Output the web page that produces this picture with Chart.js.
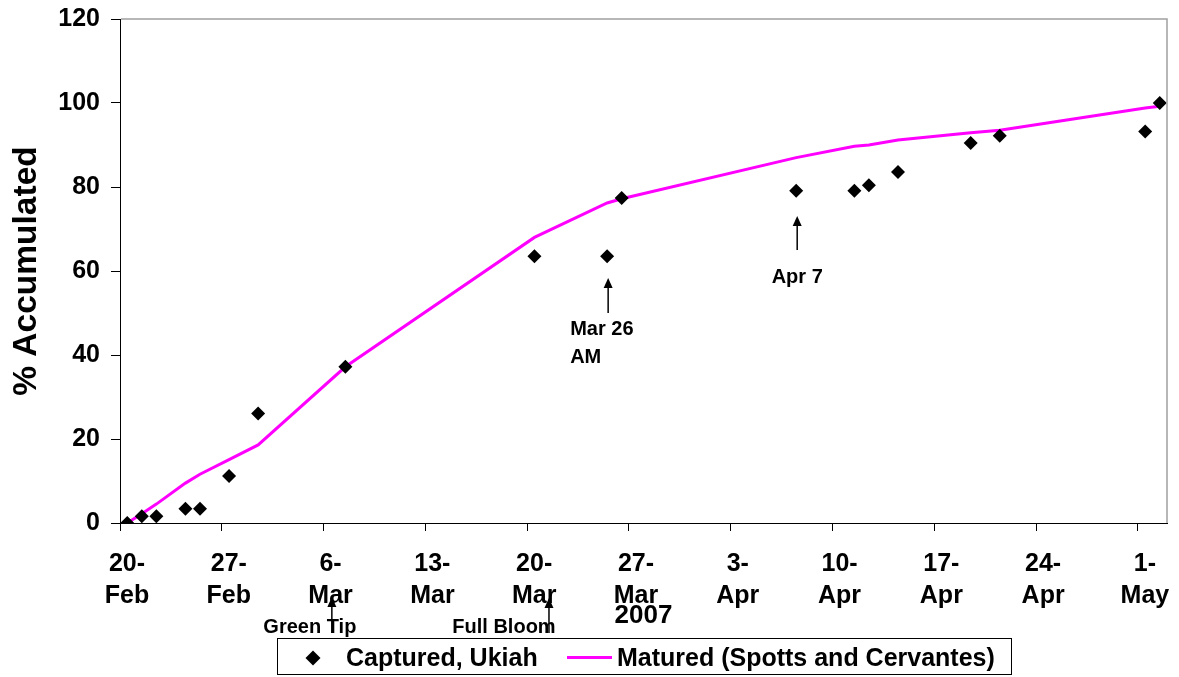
<!DOCTYPE html>
<html>
<head>
<meta charset="utf-8">
<script src="https://cdn.jsdelivr.net/npm/chart.js@4/dist/chart.umd.min.js"></script>
<style>
html,body{margin:0;padding:0;background:#fff;}
canvas{display:block;}
</style>
</head>
<body>
<canvas id="c" width="1179" height="677"></canvas>
<script>
// ---- data ----
const startDate = '2007-02-20';
const endDate = '2007-05-02';
const capturedDates = ['2007-02-20','2007-02-21','2007-02-22','2007-02-24','2007-02-25','2007-02-27','2007-03-01','2007-03-07','2007-03-20','2007-03-25','2007-03-26','2007-04-07','2007-04-11','2007-04-12','2007-04-14','2007-04-19','2007-04-21','2007-05-01','2007-05-02'];
const capturedValues = [0, 1.6, 1.6, 3.4, 3.4, 11.2, 26.1, 37.2, 63.5, 63.5, 77.4, 79.1, 79.1, 80.4, 83.6, 90.5, 92.2, 93.2, 100];
const maturedDates = ['2007-02-20','2007-02-21','2007-02-22','2007-02-24','2007-02-25','2007-02-27','2007-03-01','2007-03-07','2007-03-20','2007-03-25','2007-03-26','2007-04-07','2007-04-11','2007-04-12','2007-04-14','2007-04-19','2007-04-21','2007-05-01','2007-05-02'];
const maturedValues = [0, 2.2, 4.5, 9.5, 11.6, 15.1, 18.6, 37.2, 68.0, 76.2, 77.2, 87.0, 89.7, 90.0, 91.2, 92.9, 93.5, 98.8, 99.2];
const xTickDates = ['2007-02-20','2007-02-27','2007-03-06','2007-03-13','2007-03-20','2007-03-27','2007-04-03','2007-04-10','2007-04-17','2007-04-24','2007-05-01'];
const xTickLabels = [['20-','Feb'],['27-','Feb'],['6-','Mar'],['13-','Mar'],['20-','Mar'],['27-','Mar'],['3-','Apr'],['10-','Apr'],['17-','Apr'],['24-','Apr'],['1-','May']];
const yTickValues = [0, 20, 40, 60, 80, 100, 120];
const seriesLabels = ['Captured, Ukiah', 'Matured (Spotts and Cervantes)'];
const xTitle = '2007';
const yTitle = '% Accumulated';
const annotationTexts = [['Green Tip'], ['Full Bloom'], ['Mar 26', 'AM'], ['Apr 7']];
const annotationDates = ['2007-03-06', '2007-03-21', '2007-03-25', '2007-04-07'];

const FONT = '"Liberation Sans", Arial, Helvetica, sans-serif';
function dayIndex(s) {
  return Math.round((Date.parse(s + 'T00:00:00Z') - Date.parse(startDate + 'T00:00:00Z')) / 86400000);
}

const capturedPts = capturedDates.map((d, i) => ({x: dayIndex(d), y: capturedValues[i]}));
const maturedPts = maturedDates.map((d, i) => ({x: dayIndex(d), y: maturedValues[i]}));

function drawArrow(ctx, x, yFrom, yTip) {
  ctx.save();
  ctx.strokeStyle = '#000';
  ctx.fillStyle = '#000';
  ctx.lineWidth = 1.5;
  ctx.beginPath();
  ctx.moveTo(x, yFrom);
  ctx.lineTo(x, yTip + 8);
  ctx.stroke();
  ctx.beginPath();
  ctx.moveTo(x, yTip);
  ctx.lineTo(x - 4.5, yTip + 10);
  ctx.lineTo(x + 4.5, yTip + 10);
  ctx.closePath();
  ctx.fill();
  ctx.restore();
}

const extras = {
  id: 'extras',
  afterDraw(chart) {
    const ctx = chart.ctx;
    const a = chart.chartArea;
    const xs = chart.scales.x;
    // frame (top and right)
    ctx.save();
    ctx.strokeStyle = '#a0a0a0';
    ctx.lineWidth = 1.5;
    ctx.beginPath();
    ctx.moveTo(a.left + 1, a.top);
    ctx.lineTo(a.right, a.top);
    ctx.lineTo(a.right, a.bottom);
    ctx.stroke();
    ctx.restore();

    // annotations
    ctx.save();
    ctx.fillStyle = '#000';
    ctx.font = 'bold 20px ' + FONT;
    ctx.textBaseline = 'alphabetic';
    // Green Tip
    let x = xs.getPixelForValue(dayIndex(annotationDates[0]));
    drawArrow(ctx, x + 1, 633, 597);
    ctx.textAlign = 'center';
    ctx.fillText(annotationTexts[0][0], x - 21, 633);
    // Full Bloom
    x = xs.getPixelForValue(dayIndex(annotationDates[1]));
    drawArrow(ctx, x, 633, 598);
    ctx.fillText(annotationTexts[1][0], x - 45, 633);
    // Mar 26 AM
    x = xs.getPixelForValue(dayIndex(annotationDates[2]));
    drawArrow(ctx, x + 1, 313, 278);
    ctx.textAlign = 'left';
    ctx.fillText(annotationTexts[2][0], x - 37, 335);
    ctx.fillText(annotationTexts[2][1], x - 37, 363);
    // Apr 7
    x = xs.getPixelForValue(dayIndex(annotationDates[3]));
    drawArrow(ctx, x + 1, 250, 216);
    ctx.textAlign = 'center';
    ctx.fillText(annotationTexts[3][0], x + 1, 283);
    ctx.restore();

    // legend box
    const ds = chart.data.datasets;
    ctx.save();
    ctx.strokeStyle = '#000';
    ctx.lineWidth = 1;
    ctx.strokeRect(277.5, 638.5, 734, 36);
    ctx.fillStyle = ds[0].backgroundColor;
    ctx.beginPath();
    ctx.moveTo(313, 650.5);
    ctx.lineTo(320.5, 658);
    ctx.lineTo(313, 665.5);
    ctx.lineTo(305.5, 658);
    ctx.closePath();
    ctx.fill();
    ctx.fillStyle = '#000';
    ctx.font = 'bold 25px ' + FONT;
    ctx.textAlign = 'left';
    ctx.textBaseline = 'alphabetic';
    ctx.fillText(ds[0].label, 346, 666);
    ctx.strokeStyle = ds[1].borderColor;
    ctx.lineWidth = 3;
    ctx.beginPath();
    ctx.moveTo(567, 657.5);
    ctx.lineTo(612, 657.5);
    ctx.stroke();
    ctx.fillText(ds[1].label, 617, 666);
    ctx.restore();
  }
};

new Chart(document.getElementById('c'), {
  type: 'scatter',
  data: {
    datasets: [
      {
        label: seriesLabels[0],
        data: capturedPts,
        showLine: false,
        pointStyle: 'rectRot',
        pointRadius: 7,
        pointHoverRadius: 7,
        backgroundColor: '#000000',
        borderColor: '#000000',
        borderWidth: 0
      },
      {
        label: seriesLabels[1],
        data: maturedPts,
        showLine: true,
        borderColor: '#FF00FF',
        backgroundColor: '#FF00FF',
        borderWidth: 3,
        pointRadius: 0,
        pointHoverRadius: 0,
        tension: 0
      }
    ]
  },
  options: {
    responsive: false,
    animation: false,
    events: [],
    layout: { padding: { top: 19, right: 12, bottom: 0, left: 0 } },
    plugins: { legend: { display: false }, tooltip: { enabled: false } },
    scales: {
      x: {
        type: 'linear',
        min: -0.5,
        max: dayIndex(endDate) + 0.5,
        afterBuildTicks: s => { s.ticks = xTickDates.map(d => ({ value: dayIndex(d) - 0.5 })); },
        afterFit: s => { s.height = 154; s.paddingLeft = 0; s.paddingRight = 0; },
        ticks: {
          autoSkip: false,
          maxRotation: 0,
          minRotation: 0,
          color: '#000',
          padding: 17,
          labelOffset: 7,
          font: { family: FONT, size: 25, weight: 'bold', lineHeight: 1.27 },
          callback: (v, i) => xTickLabels[i]
        },
        grid: { drawOnChartArea: false, color: '#000', tickLength: 8, lineWidth: 1 },
        border: { color: '#000', width: 1 },
        title: {
          display: true, text: xTitle, color: '#000',
          font: { family: FONT, size: 26, weight: 'bold', lineHeight: 1.2 },
          padding: { top: 0, bottom: 46 }
        }
      },
      y: {
        min: 0,
        max: 120,
        afterBuildTicks: s => { s.ticks = yTickValues.map(v => ({ value: v })); },
        afterFit: s => { s.width = 120; s.paddingTop = 0; s.paddingBottom = 0; },
        ticks: {
          color: '#000',
          padding: 11,
          font: { family: FONT, size: 25, weight: 'bold' }
        },
        grid: { drawOnChartArea: false, color: '#000', tickLength: 9, lineWidth: 1 },
        border: { color: '#000', width: 1 },
        title: {
          display: true, text: yTitle, color: '#000',
          font: { family: FONT, size: 33.5, weight: 'bold', lineHeight: 1.2 },
          padding: { top: 7, bottom: 0 }
        }
      }
    }
  },
  plugins: [extras]
});
</script>
</body>
</html>
